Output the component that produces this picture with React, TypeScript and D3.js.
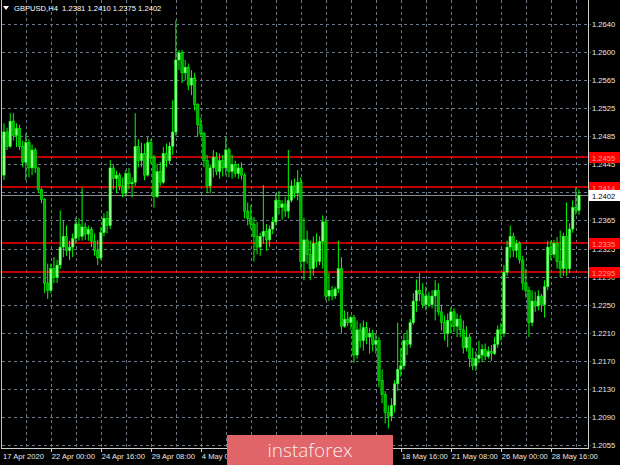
import React from "react";
import * as d3 from "d3";

// ---- data (GBPUSD H4) ----
const firstOpen = 1.2430;
const closes = [1.2490,1.2470,1.2505,1.2485,1.2495,1.2470,1.2448,1.2475,1.2440,1.2465,
1.2440,1.2410,1.2396,1.2280,1.2270,1.2300,1.2288,1.2305,1.2330,1.2345,
1.2325,1.2330,1.2342,1.2362,1.2345,1.2358,1.2348,1.2355,1.2338,1.2325,
1.2315,1.2350,1.2370,1.2360,1.2440,1.2425,1.2430,1.2415,1.2405,1.2432,
1.2418,1.2420,1.2470,1.2450,1.2460,1.2430,1.2475,1.2455,1.2400,1.2435,
1.2420,1.2460,1.2450,1.2470,1.2490,1.2590,1.2600,1.2572,1.2580,1.2555,
1.2565,1.2528,1.2500,1.2488,1.2450,1.2415,1.2440,1.2455,1.2435,1.2450,
1.2440,1.2465,1.2435,1.2445,1.2432,1.2440,1.2430,1.2380,1.2370,1.2362,
1.2345,1.2330,1.2345,1.2352,1.2340,1.2355,1.2365,1.2395,1.2385,1.2390,
1.2380,1.2395,1.2415,1.2405,1.2420,1.2310,1.2340,1.2320,1.2300,1.2335,
1.2310,1.2338,1.2365,1.2262,1.2270,1.2262,1.2272,1.2300,1.2220,1.2230,
1.2225,1.2232,1.2180,1.2215,1.2200,1.2218,1.2205,1.2210,1.2195,1.2200,
1.2145,1.2125,1.2100,1.2095,1.2110,1.2140,1.2160,1.2165,1.2200,1.2195,
1.2225,1.2255,1.2270,1.2265,1.2250,1.2262,1.2250,1.2262,1.2270,1.2240,
1.2225,1.2210,1.2228,1.2240,1.2220,1.2230,1.2215,1.2190,1.2205,1.2175,
1.2165,1.2175,1.2180,1.2188,1.2178,1.2185,1.2182,1.2195,1.2215,1.2210,
1.2295,1.2330,1.2345,1.2325,1.2335,1.2312,1.2280,1.2270,1.2225,1.2255,
1.2248,1.2262,1.2250,1.2275,1.2330,1.2320,1.2335,1.2310,1.2300,1.2345,
1.2300,1.2355,1.2385,1.2381,1.2402];
const highs = [1.2502,1.2496,1.2516,1.2516,1.2502,1.2500,1.2478,1.2488,1.2480,1.2472,
1.2468,1.2441,1.2412,1.2398,1.2307,1.2307,1.2316,1.2312,1.2381,1.2367,
1.2360,1.2339,1.2349,1.2371,1.2370,1.2413,1.2364,1.2360,1.2358,1.2349,
1.2340,1.2358,1.2377,1.2380,1.2451,1.2445,1.2436,1.2433,1.2427,1.2437,
1.2440,1.2427,1.2516,1.2480,1.2475,1.2474,1.2483,1.2480,1.2458,1.2446,
1.2448,1.2469,1.2474,1.2476,1.2534,1.2645,1.2604,1.2604,1.2590,1.2585,
1.2576,1.2572,1.2530,1.2510,1.2490,1.2458,1.2445,1.2465,1.2462,1.2460,
1.2458,1.2483,1.2468,1.2458,1.2450,1.2446,1.2448,1.2433,1.2392,1.2388,
1.2372,1.2365,1.2350,1.2416,1.2362,1.2360,1.2372,1.2405,1.2408,1.2395,
1.2400,1.2465,1.2423,1.2425,1.2437,1.2427,1.2371,1.2353,1.2339,1.2345,
1.2349,1.2345,1.2374,1.2370,1.2294,1.2276,1.2275,1.2339,1.2316,1.2242,
1.2240,1.2235,1.2236,1.2228,1.2224,1.2228,1.2226,1.2218,1.2215,1.2210,
1.2205,1.2160,1.2130,1.2110,1.2120,1.2145,1.2225,1.2190,1.2210,1.2215,
1.2230,1.2266,1.2285,1.2294,1.2280,1.2275,1.2268,1.2270,1.2284,1.2280,
1.2250,1.2235,1.2238,1.2246,1.2245,1.2238,1.2236,1.2228,1.2220,1.2210,
1.2190,1.2185,1.2200,1.2195,1.2196,1.2192,1.2194,1.2205,1.2221,1.2224,
1.2305,1.2339,1.2360,1.2350,1.2340,1.2338,1.2318,1.2300,1.2275,1.2270,
1.2268,1.2270,1.2265,1.2284,1.2339,1.2339,1.2340,1.2344,1.2353,1.2350,
1.2392,1.2363,1.2395,1.2413,1.2410];
const lows = [1.2423,1.2465,1.2468,1.2478,1.2469,1.2465,1.2441,1.2423,1.2427,1.2430,
1.2433,1.2405,1.2391,1.2266,1.2258,1.2266,1.2280,1.2280,1.2300,1.2316,
1.2318,1.2312,1.2316,1.2335,1.2339,1.2339,1.2340,1.2339,1.2330,1.2318,
1.2305,1.2312,1.2345,1.2349,1.2355,1.2410,1.2405,1.2409,1.2399,1.2400,
1.2410,1.2399,1.2415,1.2441,1.2441,1.2423,1.2428,1.2446,1.2385,1.2398,
1.2415,1.2418,1.2441,1.2445,1.2458,1.2485,1.2576,1.2558,1.2562,1.2548,
1.2541,1.2520,1.2483,1.2483,1.2441,1.2405,1.2405,1.2427,1.2430,1.2425,
1.2428,1.2430,1.2427,1.2425,1.2427,1.2425,1.2424,1.2370,1.2360,1.2355,
1.2310,1.2320,1.2318,1.2335,1.2325,1.2330,1.2348,1.2360,1.2375,1.2368,
1.2372,1.2370,1.2392,1.2398,1.2395,1.2298,1.2284,1.2307,1.2284,1.2290,
1.2302,1.2305,1.2300,1.2256,1.2255,1.2256,1.2258,1.2266,1.2210,1.2218,
1.2220,1.2215,1.2169,1.2175,1.2190,1.2186,1.2195,1.2182,1.2185,1.2182,
1.2135,1.2113,1.2085,1.2078,1.2088,1.2100,1.2130,1.2150,1.2160,1.2180,
1.2190,1.2222,1.2240,1.2255,1.2245,1.2242,1.2246,1.2245,1.2228,1.2235,
1.2214,1.2200,1.2191,1.2210,1.2212,1.2205,1.2205,1.2182,1.2185,1.2163,
1.2159,1.2158,1.2169,1.2170,1.2173,1.2175,1.2172,1.2180,1.2190,1.2200,
1.2205,1.2290,1.2315,1.2316,1.2315,1.2307,1.2270,1.2260,1.2205,1.2220,
1.2240,1.2242,1.2240,1.2232,1.2270,1.2312,1.2315,1.2300,1.2288,1.2290,
1.2290,1.2294,1.2350,1.2375,1.2375];

// grid prices (equal pixel steps) and the rounded labels MT4 prints for them
const yTickValues = [1.2640,1.2601,1.2562,1.2523,1.2484,1.2445,1.2406,1.2367,1.2328,1.2289,1.2250,1.2211,1.2172,1.2133,1.2094,1.2055];
const yTickLabels = ["1.2640","1.2600","1.2565","1.2525","1.2485","1.2445","","1.2365","1.2325","1.2290","1.2250","1.2210","1.2170","1.2130","1.2090","1.2055"];
// time labels (the ones hidden by the watermark are left empty)
const xTickBars = [0,15,31,47,63,79,95,111,127,143,159,175];
const xTickLabels = ["17 Apr 2020","22 Apr 00:00","24 Apr 16:00","29 Apr 08:00","4 May 00:00","","","","18 May 16:00","21 May 08:00","26 May 00:00","28 May 16:00"];
const levelLines = [1.2455, 1.2414, 1.2335, 1.2295];
const levelLabels = ["1.2455", "1.2414", "1.2335", "1.2295"];
const symbol = "GBPUSD,H4";

const W = 620, H = 465;
const plotRight = 588;
const plotBottom = 448;
const FONT = "'Liberation Sans', Arial, sans-serif";

export default function App() {
  const n = closes.length;
  const opens = closes.map((_, i) => (i === 0 ? firstOpen : closes[i - 1]));
  const x = d3.scaleBand<number>().domain(d3.range(n)).range([2.4, 2.4 + n * 3.125]).padding(0);
  const cx = (i: number) => (x(i) as number) + x.bandwidth() / 2;
  const y = d3.scaleLinear().domain([1.2055, 1.2640]).range([445, 24]);
  const fmt = d3.format(".4f");
  const last = n - 1;
  const title = `${symbol}  ${fmt(opens[last])} ${fmt(highs[last])} ${fmt(lows[last])} ${fmt(closes[last])}`;
  const gridBars = d3.range(7, n, 8);
  const gridColor = "#6b7888";
  const py = (v: number) => Math.round(y(v)) + 0.5;

  return (
    <svg width={W} height={H} style={{ display: "block", background: "#000" }} fontFamily={FONT}>
      <style>{`body{margin:0;background:#000}`}</style>
      <rect x={0} y={0} width={W} height={H} fill="#000" />
      {/* grid */}
      {yTickValues.map((v, i) => (
        <line key={"hy" + i} x1={2} x2={plotRight + 3} y1={py(v)} y2={py(v)}
          stroke={gridColor} strokeDasharray="3,3" strokeWidth={1} shapeRendering="crispEdges" />
      ))}
      {gridBars.map((b) => (
        <line key={"vx" + b} x1={Math.round(cx(b)) + 0.5} x2={Math.round(cx(b)) + 0.5} y1={0} y2={plotBottom}
          stroke={gridColor} strokeDasharray="3,3" strokeWidth={1} shapeRendering="crispEdges" />
      ))}
      {/* bid line */}
      <line x1={2} x2={plotRight} y1={py(closes[last])} y2={py(closes[last])} stroke="#8a8a8a" strokeWidth={1} shapeRendering="crispEdges" />
      {/* level lines */}
      {levelLines.map((v, i) => (
        <line key={"lv" + i} x1={2} x2={plotRight} y1={Math.round(y(v))} y2={Math.round(y(v))} stroke="#ff0000" strokeWidth={1.6} />
      ))}
      {/* candles */}
      {closes.map((c, i) => {
        const o = opens[i];
        const bull = c >= o;
        const top = y(Math.max(o, c));
        const bot = y(Math.min(o, c));
        return (
          <g key={"c" + i}>
            <line x1={cx(i)} x2={cx(i)} y1={y(highs[i])} y2={y(lows[i])} stroke="#00ff00" strokeWidth={1} />
            <rect x={cx(i) - 1.25} width={2.5} y={top} height={Math.max(1, bot - top)}
              fill={bull ? "#8cff8c" : "#00b000"} stroke="#00ff00" strokeWidth={0.5} />
          </g>
        );
      })}
      {/* frame */}
      <line x1={1.5} x2={1.5} y1={0} y2={plotBottom} stroke="#bfbfbf" />
      <line x1={plotRight + 0.5} x2={plotRight + 0.5} y1={0} y2={plotBottom + 0.5} stroke="#d0d0d0" />
      <line x1={1} x2={plotRight + 1} y1={plotBottom + 0.5} y2={plotBottom + 0.5} stroke="#d0d0d0" />
      {/* y labels */}
      {yTickValues.map((v, i) => yTickLabels[i] ? (
        <text key={"yl" + i} x={592} y={y(v) + 3} fontSize={7.6} fill="#e8e8e8">{yTickLabels[i]}</text>
      ) : null)}
      {levelLines.map((v, i) => (
        <g key={"ll" + i}>
          <rect x={589} y={py(v) - 5.5} width={31} height={11} fill="#ff0000" />
          <text x={592} y={py(v) + 3} fontSize={7.6} fill="#ff9d9d">{levelLabels[i]}</text>
        </g>
      ))}
      <rect x={589} y={py(closes[last]) - 5.5} width={31} height={11} fill="#ffffff" />
      <text x={592} y={py(closes[last]) + 3} fontSize={7.6} fill="#000">{fmt(closes[last])}</text>
      {/* x labels */}
      {xTickBars.map((b, i) => (
        <g key={"xl" + i}>
          {i > 0 && <line x1={Math.round(cx(b)) + 0.5} x2={Math.round(cx(b)) + 0.5} y1={plotBottom} y2={plotBottom + 4} stroke="#d0d0d0" />}
          {xTickLabels[i] && <text x={i === 0 ? 3 : cx(b) + 1} y={459} fontSize={7.6} fill="#e8e8e8">{xTickLabels[i]}</text>}
        </g>
      ))}
      {/* title */}
      <path d="M3,6 L9,6 L6,10 Z" fill="#ffffff" />
      <text x={14} y={11} fontSize={7.6} fill="#ffffff" style={{ whiteSpace: "pre" }}>{title}</text>
      {/* watermark logo */}
      <rect x={227} y={435} width={166} height={32} fill="#e06468" />
      <text x={310} y={457} textAnchor="middle" fontSize={19} fontWeight={300} fill="#f8eeee"
        fontFamily="'Open Sans', 'Noto Sans', sans-serif">instaforex</text>
    </svg>
  );
}
